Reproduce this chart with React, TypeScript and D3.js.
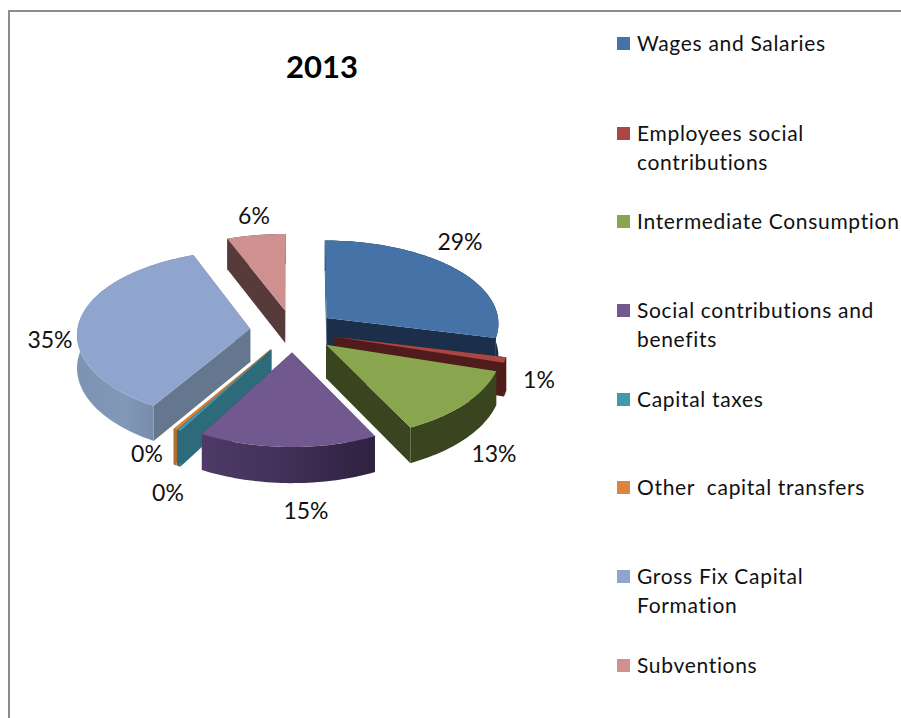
import React from "react";
import * as d3 from "d3";

const categories = ["Wages and Salaries", "Employees social contributions", "Intermediate Consumption", "Social contributions and benefits", "Capital taxes", "Other  capital transfers", "Gross Fix Capital Formation", "Subventions"];
const values = [28.6, 1.0, 12.7, 15.4, 0.3, 0.3, 35.2, 5.8];
const topColors = ["#4572a7", "#aa4643", "#89a54e", "#71588f", "#4198af", "#db843d", "#8fa5cd", "#cf9190"];
const wallColors = ["#1b2e4a", "#4f1c1b", "#3a451f", "#43335a", "#2d6b7b", "#a5652e", "#65768f", "#563b3a"];
const outerLeft = ["#1b2e4a", "#4f1c1b", "#3a451f", "#4d3a66", "#2d6b7b", "#b0702f", "#7d93b3", "#563b3a"];
const outerMid = ["#1b2e4a", "#4f1c1b", "#3a451f", "#44335b", "#2d6b7b", "#b0702f", "#8298b8", "#563b3a"];
const outerRight = ["#1b2e4a", "#4f1c1b", "#3a451f", "#2e2140", "#2d6b7b", "#b0702f", "#6c7e99", "#563b3a"];
const legendLines = [["Wages and Salaries"], ["Employees social", "contributions"], ["Intermediate Consumption"], ["Social contributions and", "benefits"], ["Capital taxes"], ["Other  capital transfers"], ["Gross Fix Capital", "Formation"], ["Subventions"]];
const legendRowY = [43, 133, 221, 310, 399, 487, 576, 665];
const labelCentres = [[460, 242], [539, 380], [494, 454], [306, 511], [168, 493], [147, 454], [50, 340], [254, 216]];
const paintOrder = [7, 0, 6, 1, 2, 5, 4, 3];

const FONT = "Lato, 'Open Sans', sans-serif";
const cx = 293, cy = 331, R = 173, tilt = 0.49, persp = 0.07, xPersp = 0.8, depth = 33, explode = 43;

function project(u: number, v: number, z = 0): [number, number] {
  const s = 1 / (1 - (persp * v) / R);
  return [cx + u * (1 + (s - 1) * xPersp), cy + (v * tilt + z) * s];
}

const pieLayout = d3.pie<number>().sort(null).startAngle(0).endAngle(2 * Math.PI);
const arcs = pieLayout(values);
const lineGen = d3.line<[number, number]>().curve(d3.curveLinearClosed);

function Slice({ i }: { i: number }) {
  const a = arcs[i];
  const mid = (a.startAngle + a.endAngle) / 2;
  const ox = Math.sin(mid) * explode, oy = -Math.cos(mid) * explode;
  const n = Math.max(2, Math.ceil((a.endAngle - a.startAngle) * 40));
  const angle = d3.scaleLinear().domain([0, n]).range([a.startAngle, a.endAngle]);
  const rim = d3.range(n + 1).map((t) => {
    const th = angle(t);
    return [ox + R * Math.sin(th), oy - R * Math.cos(th)];
  });
  const upper = rim.map(([u, v]) => project(u, v));
  const lower = rim.map(([u, v]) => project(u, v, depth));
  const apexT = project(ox, oy), apexB = project(ox, oy, depth);
  const wall = (k: number) => lineGen([apexT, upper[k], lower[k], apexB]) as string;
  const gradId = `outer-${i}`;
  const walls = [0, n].sort((p, q) => rim[p][1] - rim[q][1]);
  return (
    <g>
      <defs>
        <linearGradient id={gradId} x1="0" x2="1" y1="0" y2="0">
          <stop offset="0" stopColor={outerLeft[i]} />
          <stop offset="0.4" stopColor={outerMid[i]} />
          <stop offset="1" stopColor={outerRight[i]} />
        </linearGradient>
      </defs>
      {walls.map((k) => <path key={k} d={wall(k)} fill={wallColors[i]} />)}
      <path d={lineGen([...upper, ...lower.slice().reverse()]) as string} fill={`url(#${gradId})`} />
      <path d={lineGen([apexT, ...upper]) as string} fill={topColors[i]} />
    </g>
  );
}

export default function App() {
  return (
    <svg width={901} height={718} style={{ position: "absolute", left: 0, top: 0, display: "block", background: "#fff" }} fontFamily={FONT}>
      <path d="M9 718V11H901" fill="none" stroke="#8c8c8c" strokeWidth={2} />
      <text x={322} y={78} textAnchor="middle" fontSize={31} fontWeight={700} fill="#000">2013</text>
      {paintOrder.map((i) => <Slice key={i} i={i} />)}
      {arcs.map((a, i) => (
        <text key={i} x={labelCentres[i][0]} y={labelCentres[i][1]} dy="0.36em" textAnchor="middle" fontSize={23} fill="#111">
          {`${Math.round(a.data)}%`}
        </text>
      ))}
      {categories.map((c, i) => (
        <g key={c}>
          <rect x={617} y={legendRowY[i] - 6} width={13} height={13} fill={topColors[i]} />
          {legendLines[i].map((line, j) => (
            <text key={j} x={637} y={legendRowY[i] + j * 29} dy="0.36em" fontSize={21} letterSpacing={0.68} fill="#111" xmlSpace="preserve">{line}</text>
          ))}
        </g>
      ))}
    </svg>
  );
}
